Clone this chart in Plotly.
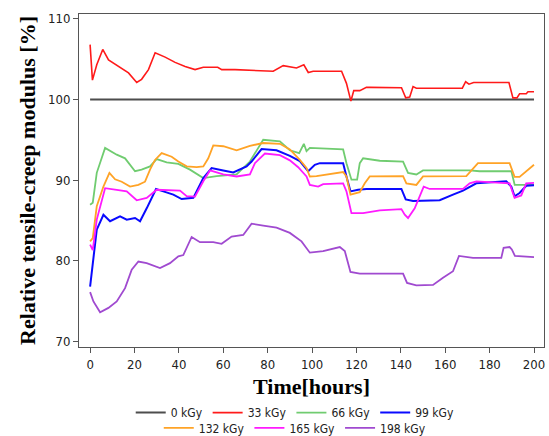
import plotly.graph_objects as go

# ---- data ----
t_0 = [0, 200]
v_0 = [100, 100]

t_33 = [0, 1.05, 3, 5.7, 8.3, 12.8, 17.3, 21, 23.2, 26.3, 29.3, 33.8, 38.3, 42.8, 47.3, 51, 57.5, 59.3,
        65.3, 82.5, 87, 93, 96.3, 98.3, 100.5, 113.3, 115.5, 117.5, 118.8, 121.5, 124.5, 126, 135,
        140.3, 142.2, 144, 145.5, 147, 167.7, 169.2, 170.7, 172.8, 188.7, 190.5, 192.3, 193.5, 196.5, 197.3, 200]
v_33 = [106.8, 102.4, 104.3, 106.2, 104.9, 104.1, 103.3, 102.1, 102.5, 103.7, 105.8, 105.25, 104.6, 104.1, 103.7, 104.0, 104.0, 103.7,
        103.7, 103.5, 104.2, 103.9, 104.3, 103.35, 103.5, 103.5, 102.0, 99.8, 101.1, 101.1, 101.5, 101.5, 101.45,
        101.45, 100.2, 100.3, 101.6, 101.4, 101.4, 102.2, 101.9, 102.1, 102.1, 100.2, 100.2, 100.7, 100.7, 100.95, 100.95]

t_66 = [0, 1.2, 3, 6.75, 12, 15.75, 20.25, 23.2, 27, 30, 34.5, 39.75, 45, 51, 57, 66, 72, 78, 85.5, 90,
        94.2, 96.3, 97.5, 99, 114, 115.5, 117.75, 120.3, 121.5, 123, 130.5, 141, 143.25, 147, 150, 171,
        175.5, 189.8, 191.3, 200]
v_66 = [86.95, 87.2, 90.9, 94.0, 93.15, 92.7, 91.1, 91.3, 91.7, 92.6, 92.2, 92.0, 91.3, 90.25, 90.5, 90.7, 92.3, 95.0, 94.8, 93.7,
        93.35, 94.5, 93.6, 94.0, 93.8, 92.1, 90.05, 90.05, 92.1, 92.7, 92.4, 92.3, 90.9, 90.7, 91.2, 91.2,
        91.1, 91.1, 89.4, 89.4]

t_99 = [0, 1.5, 3, 6, 9, 13.5, 16.5, 20.25, 22.5, 25.5, 29.7, 33, 37.5, 41.25, 46.5, 51, 54.75, 60, 64.5,
        70.5, 72.75, 77.25, 84, 90, 94.5, 98.25, 101.25, 103.5, 114, 115.5, 117.3, 120.75, 124.5, 140.25,
        142.2, 145.5, 157.5, 163.5, 168, 174, 187.5, 189.75, 191.25, 193.5, 196.5, 200]
v_99 = [76.8, 80.55, 83.85, 85.7, 84.9, 85.5, 85.1, 85.3, 84.9, 86.5, 88.9, 88.6, 88.2, 87.65, 87.8, 90.25, 91.5, 91.2, 90.95,
        91.7, 92.3, 93.85, 93.7, 93.0, 92.35, 91.1, 91.9, 92.1, 92.1, 90.45, 88.6, 88.8, 88.9, 88.9,
        87.6, 87.4, 87.5, 88.2, 88.7, 89.6, 89.85, 89.2, 88.0, 88.4, 89.3, 89.35]

t_132 = [0, 1.2, 3, 6, 8.7, 11.25, 14.25, 18, 21.75, 24.75, 27, 29.25, 32.25, 36.75, 39.75, 43.5, 48, 51,
         53.25, 55.5, 60, 66, 72, 78, 85.5, 90, 94.5, 97.5, 99, 102, 114, 115.5, 117.3, 121.5, 123.75, 126,
         141, 142.5, 147, 150, 169.5, 174.75, 189, 191.25, 193.5, 200]
v_132 = [82.4, 82.8, 86.75, 89.2, 90.9, 90.1, 89.8, 89.2, 89.4, 89.8, 91.3, 92.5, 93.35, 92.9, 92.3, 91.7, 91.6, 91.7,
         92.7, 94.3, 94.2, 93.7, 94.25, 94.6, 94.5, 93.8, 92.5, 91.5, 90.45, 90.5, 91.0, 90.45, 88.2, 88.5, 89.6, 90.45,
         90.5, 89.6, 89.4, 90.45, 90.5, 92.1, 92.1, 90.4, 90.4, 91.9]

t_165 = [0, 1.2, 3, 6.75, 12, 16.5, 21, 25.5, 30, 36, 40.5, 43.5, 47.25, 51, 54, 60, 66, 72, 74.25, 78.75,
         85.5, 90, 93.75, 97.5, 99, 102.75, 105, 114, 115.5, 117.75, 123, 130.5, 140.25, 141.75, 143.25,
         146.25, 148.5, 150.3, 153, 168, 171, 174, 189, 191.25, 194.25, 196.5, 200]
v_165 = [82.0, 81.3, 85.1, 89.0, 88.8, 88.6, 87.5, 87.8, 88.8, 88.7, 88.7, 88.0, 87.95, 89.85, 91.2, 90.7, 90.45, 90.7, 92.1, 93.3,
         93.1, 92.45, 91.6, 90.45, 89.4, 89.2, 89.5, 89.6, 88.6, 85.9, 85.9, 86.25, 86.4, 85.7, 85.3,
         86.5, 88.0, 89.2, 88.9, 88.9, 89.6, 89.85, 89.6, 87.8, 88.1, 89.6, 89.65]

t_198 = [0, 1.5, 4.5, 8.25, 12, 15.75, 18.75, 21.75, 25.5, 31.5, 36, 39.75, 42, 45.75, 49.5, 55.5, 59.25,
         63.75, 69, 72.75, 78, 84, 90, 95.25, 99, 105, 112.5, 114.75, 117.3, 121.5, 141, 142.8, 147,
         154.5, 159, 163.5, 166.2, 169.5, 172.5, 185.25, 186.3, 189, 190, 191.4, 200]
v_198 = [76.1, 74.95, 73.6, 74.15, 74.95, 76.6, 78.9, 79.9, 79.7, 79.1, 79.7, 80.55, 80.7, 82.95, 82.3, 82.3, 82.1,
         83.0, 83.2, 84.6, 84.35, 84.1, 83.45, 82.4, 81.0, 81.2, 81.7, 81.2, 78.6, 78.4, 78.4, 77.25, 76.95,
         77.0, 77.9, 78.7, 80.6, 80.5, 80.35, 80.35, 81.6, 81.7, 81.4, 80.6, 80.45]

series = [
    ("0 kGy", t_0, v_0, "#4d4d4d", 2.0, "legend"),
    ("33 kGy", t_33, v_33, "#ff1a1a", 1.6, "legend"),
    ("66 kGy", t_66, v_66, "#70cc70", 1.8, "legend"),
    ("99 kGy", t_99, v_99, "#0a0aff", 2.0, "legend"),
    ("132 kGy", t_132, v_132, "#ffa326", 1.8, "legend2"),
    ("165 kGy", t_165, v_165, "#ff1aff", 1.8, "legend2"),
    ("198 kGy", t_198, v_198, "#a04ad0", 1.8, "legend2"),
]

fig = go.Figure()
for name, t, v, col, w, lg in series:
    fig.add_trace(go.Scatter(x=t, y=v, mode="lines", name=name,
                             line=dict(color=col, width=w), legend=lg))

axis_common = dict(showline=True, linecolor="#555555", linewidth=1, mirror=True,
                   ticks="outside", ticklen=5, tickcolor="#555555", tickwidth=1,
                   showgrid=False, zeroline=False,
                   tickfont=dict(family="DejaVu Sans Condensed, DejaVu Sans", size=13, color="#222222"))

fig.update_layout(
    width=549, height=436,
    margin=dict(l=79, r=5, t=14, b=89, autoexpand=False),
    paper_bgcolor="white", plot_bgcolor="white",
    xaxis=dict(range=[-5, 204.5], tickmode="array", tickvals=list(range(0, 201, 20)),
               title=dict(text="<b>Time[hours]</b>", standoff=8,
                          font=dict(family="Liberation Serif", size=22, color="black")),
               **axis_common),
    yaxis=dict(range=[69.3, 110.6], tickmode="array", tickvals=[70, 80, 90, 100, 110],
               title=dict(text="<b>Relative tensile-creep modulus [%]</b>", standoff=6,
                          font=dict(family="Liberation Serif", size=22, color="black")),
               **axis_common),
    legend=dict(orientation="h", x=0.465, xanchor="center", y=-0.197, yanchor="middle",
                font=dict(family="DejaVu Sans Condensed, DejaVu Sans", size=12, color="#222222"),
                bgcolor="rgba(0,0,0,0)"),
    legend2=dict(orientation="h", x=0.464, xanchor="center", y=-0.243, yanchor="middle",
                 font=dict(family="DejaVu Sans Condensed, DejaVu Sans", size=12, color="#222222"),
                 bgcolor="rgba(0,0,0,0)"),
)

fig.write_html("out.html")
